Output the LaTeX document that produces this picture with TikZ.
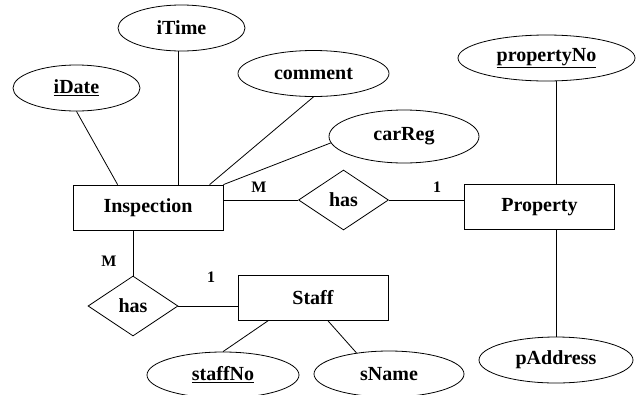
\documentclass[tikz,border=0pt]{standalone}
\usepackage{fontspec}
\setmainfont{Liberation Serif}
\usetikzlibrary{shapes.geometric, calc}

\begin{document}
\begin{tikzpicture}[x=1pt, y=-1pt, line width=.8pt, font=\fontsize{20}{22}\selectfont\bfseries, entity node/.style={rectangle, draw, minimum width=150pt, minimum height=45pt}, attr node/.style={ellipse, draw, inner sep=0pt, minimum height=46pt}, rel node/.style={diamond, draw, inner sep=0pt, minimum width=90pt, minimum height=60pt}, card node/.style={font=\fontsize{16}{18}\selectfont\bfseries}]
\clip (0,0) rectangle (636,394);
\node[entity node](Inspection) at (148,207.5){Inspection};
\node[entity node](Property) at (539.5,207){Property};
\node[entity node](Staff) at (313,297.5){Staff};
\node[rel node](has1) at (343.5,200){has};
\node[rel node](has2) at (133,306){has};
\foreach \s/\t/\x/\y/\w in {iDate/\underline{iDate}/76.5/88/127, iTime/iTime/181.5/28/127, comment/comment/313.5/73.5/151, propertyNo/\underline{propertyNo}/546.5/58/177, pAddress/pAddress/556/360/154, staffNo/\underline{staffNo}/223/375/152, sName/sName/389/374/150}{
    \node[attr node, minimum width=\w pt] (\s) at (\x,\y) {\t};}
\node[attr node, minimum width=150pt, minimum height=53pt](carReg) at (404,136.5){carReg};
% attributes of Inspection
\draw (iDate.south) -- ($(Inspection.north west)+(45,0)$);
\draw (iTime.south -| 178,0) -- (Inspection.north -| 178,0);
\draw (comment.south) -- ($(Inspection.north west)+(137,0)$);
\draw (carReg.185) -- (Inspection.north east);
% Inspection -- Property
\draw (has1.west) -- (has1.west -| Inspection.east);
\draw (has1.east) -- (has1.east -| Property.west);
\node[card node] (m1) at (259,187) {M};
\node[card node] (o1) at (437,187) {1};
% Inspection -- Staff
\draw (has2.north) -- (has2.north |- Inspection.south);
\draw (has2.east) -- (has2.east -| Staff.west);
\node[card node] (m2) at (109,261) {M};
\node[card node] (o2) at (211,277) {1};
% attributes of Property and Staff
\draw (pAddress.north |- propertyNo.south) -- (pAddress.north |- Property.north);
\draw (pAddress.north |- Property.south) -- (pAddress.north);
\draw (staffNo.north) -- ($(Staff.south west)+(31,0)$);
\draw (sName.147) -- ($(Staff.south west)+(90,0)$);
\end{tikzpicture}
\end{document}
